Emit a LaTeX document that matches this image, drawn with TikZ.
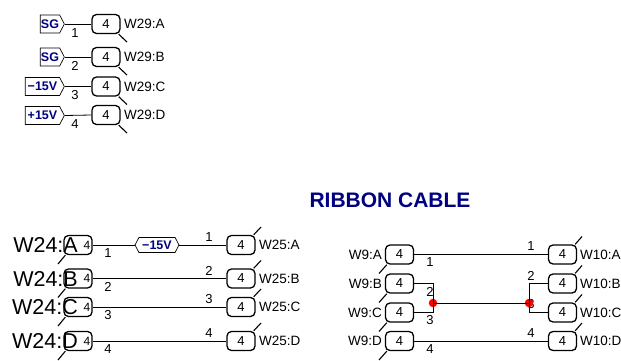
\documentclass[tikz,border=0pt]{standalone}
\usepackage{fontspec}
\setmainfont{Liberation Sans}
\usetikzlibrary{shapes.symbols}
\definecolor{flagblue}{HTML}{000080}
\tikzset{
    wire/.style={line width=0.8pt},
    tail/.style={line width=1.1pt},
    conn/.style={rectangle,rounded corners=4.5pt,draw,line width=1.3pt,minimum width=28pt,minimum height=19pt,inner sep=0pt,font=\fontsize{13}{13}\selectfont},
    lbl/.style={inner sep=0pt,font=\fontsize{13.5}{14}\selectfont},
    num/.style={inner sep=0pt,font=\fontsize{13}{14}\selectfont},
    flag/.style={signal,signal to=east,signal pointer angle=125,draw,line width=0.7pt,minimum height=18pt,inner sep=0pt,text=flagblue,font=\fontsize{12.5}{13}\bfseries\selectfont},
    bigl/.style={inner sep=0pt,font=\fontsize{21.5}{22}\selectfont},
    dot/.style={circle,fill=red,minimum size=8.5pt,inner sep=0pt}
}
\begin{document}
\begin{tikzpicture}[x=1pt,y=-1pt]
    \useasboundingbox (0,0) rectangle (621,361);
    \foreach \y/\n/\t in {24/1/A,57/2/B,86.5/3/C,115/4/D}{
        \node[conn] (tb\n) at (106,\y) {4};
        \node[lbl,anchor=west] (tl\n) at (124,\y) {W29:\t};
        \coordinate (te\n) at (127,\y+18);
        \draw[tail] ([xshift=-2pt]tb\n.south east) -- (te\n);
        \node[num] (tn\n) at (75,\y+9) {\n};
    }
    \node[flag,minimum width=24pt] (tf1) at (50,24) {SG};
    \node[flag,minimum width=24pt] (tf2) at (50,57) {SG};
    \node[flag,minimum width=39pt] (tf3) at (42.5,86.5) {−15V};
    \node[flag,minimum width=39pt] (tf4) at (42.5,115.5) {+15V};
    \foreach \n in {1,2,3,4}
    \draw[wire] (tf\n.east) -- (tb\n.west);

    \node[font=\fontsize{21}{22}\bfseries\selectfont,text=flagblue,inner sep=0pt] (title) at (390,200) {RIBBON CABLE};

    \foreach \y/\n/\t in {245/1/A,278.5/2/B,307/3/C,341/4/D}{
        \node[conn] (la\n) at (78,\y) {};
        \node[num,font=\fontsize{12}{12}\selectfont] (lf\n) at (87,\y) {4};
        \node[bigl,anchor=east] (ll\n) at (78,\y) {W24:\t};
        \coordinate (le\n) at (58,\y+19);
        \draw[tail] ([xshift=2pt]la\n.south west) -- (le\n);
        \node[conn] (ra\n) at (241,\y) {4};
        \node[lbl,anchor=west] (rl\n) at (259,\y) {W25:\t};
        \coordinate (re\n) at (261,\y-18);
        \draw[tail] ([xshift=-2pt]ra\n.north east) -- (re\n);
        \node[num] (ln\n) at (108,\y+8.5) {\n};
        \node[num] (rn\n) at (209,\y-8) {\n};
    }
    \node[flag,signal to={east and west},minimum width=44pt,minimum height=15pt] (mf) at (157,245) {−15V};
    \draw[wire] (la1.east) -- (mf.west);
    \draw[wire] (mf.east) -- (ra1.west);
    \foreach \n in {2,3,4}
    \draw[wire] (la\n.east) -- (ra\n.west);

    \foreach \y/\n/\t in {254.5/1/A,283.5/2/B,312.5/3/C,341/4/D}{
        \node[conn] (ca\n) at (399.5,\y) {4};
        \node[lbl,anchor=east] (cl\n) at (382,\y) {W9:\t};
        \coordinate (ce\n) at (379,\y+19);
        \draw[tail] ([xshift=2pt]ca\n.south west) -- (ce\n);
        \node[conn] (da\n) at (562.5,\y) {4};
        \node[lbl,anchor=west] (dl\n) at (580,\y) {W10:\t};
        \coordinate (de\n) at (582,\y-18);
        \draw[tail] ([xshift=-2pt]da\n.north east) -- (de\n);
        \node[num] (cn\n) at (430,\y+8) {\n};
        \node[num] (dn\n) at (531,\y-8) {\n};
    }
    \node[dot] (jl) at (433,303) {};
    \node[dot] (jr) at (529,303) {};
    \draw[wire] (ca1.east) -- (da1.west);
    \draw[wire] (ca4.east) -- (da4.west);
    \draw[wire] (jl.center) -- (jr.center);
    \draw[wire] (ca2.east) -| (jl.center);
    \draw[wire] (ca3.east) -| (jl.center);
    \draw[wire] (da2.west) -| (jr.center);
    \draw[wire] (da3.west) -| (jr.center);
\end{tikzpicture}
\end{document}
